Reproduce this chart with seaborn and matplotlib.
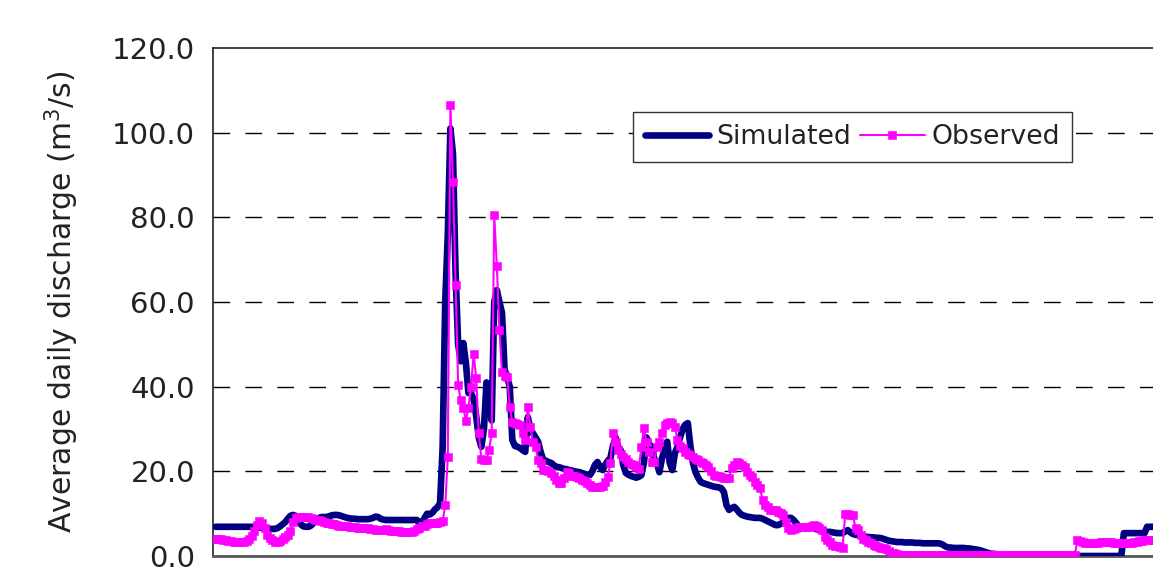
import matplotlib
matplotlib.use("Agg")
import matplotlib.pyplot as plt
import seaborn as sns
import numpy as np
import pandas as pd

# Day of record (0 = first day of the simulation year)
days = list(range(366))

# Simulated average daily discharge (m3/s)
simulated = [
    6.9, 6.9, 6.9, 6.9, 6.9, 6.9, 6.9, 6.9, 6.9, 6.9,
    6.9, 6.9, 6.9, 6.9, 6.9, 6.8, 6.8, 6.7, 6.7, 6.6,
    6.5, 6.4, 6.4, 6.4, 6.6, 7.0, 7.5, 8.0, 8.8, 9.5,
    9.7, 9.5, 8.5, 7.5, 7.0, 6.9, 6.9, 7.2, 7.8, 8.5,
    9.0, 9.2, 9.2, 9.2, 9.4, 9.6, 9.7, 9.7, 9.6, 9.4,
    9.2, 9.0, 8.9, 8.8, 8.8, 8.7, 8.7, 8.7, 8.7, 8.7,
    8.8, 9.0, 9.3, 9.2, 8.8, 8.6, 8.5, 8.5, 8.5, 8.5,
    8.5, 8.5, 8.5, 8.5, 8.5, 8.5, 8.5, 8.5, 8.5, 8.0,
    7.8, 9.0, 10.0, 9.8, 10.2, 11.0, 11.5, 12.5, 25.7, 60.0,
    76.0, 101.0, 95.0, 67.0, 50.0, 46.0, 50.3, 45.6, 38.5, 38.5,
    37.0, 33.0, 28.0, 25.8, 30.0, 41.0, 38.0, 32.0, 60.0, 62.8,
    60.0, 57.4, 44.0, 42.3, 40.0, 27.4, 26.0, 25.8, 25.5, 25.0,
    24.6, 32.8, 30.0, 29.0, 28.0, 27.0, 24.5, 22.7, 22.5, 22.2,
    22.0, 21.5, 21.0, 21.0, 20.8, 20.6, 20.5, 20.3, 20.2, 20.0,
    19.9, 19.8, 19.6, 19.4, 19.2, 19.1, 20.0, 21.5, 22.2, 21.0,
    20.3, 21.5, 22.5, 23.1, 26.0, 28.0, 25.8, 25.0, 21.5, 19.6,
    19.2, 18.9, 18.7, 18.5, 18.7, 19.1, 22.0, 28.0, 26.5, 25.8,
    23.0, 22.0, 19.8, 23.1, 25.0, 27.0, 22.0, 20.3, 24.3, 25.8,
    28.0, 30.0, 31.0, 31.4, 26.0, 22.0, 19.8, 18.5, 17.5, 17.2,
    17.0, 16.8, 16.6, 16.4, 16.3, 16.2, 16.0, 15.1, 12.0, 10.9,
    11.3, 11.6, 11.0, 10.2, 9.7, 9.5, 9.3, 9.2, 9.1, 9.0,
    9.0, 9.0, 8.8, 8.5, 8.2, 7.9, 7.6, 7.3, 7.3, 7.6,
    7.9, 8.5, 9.0, 9.0, 8.5, 7.8, 7.0, 6.9, 6.8, 6.8,
    6.9, 6.9, 6.6, 6.3, 6.1, 5.9, 5.8, 5.7, 5.7, 5.6,
    5.5, 5.4, 5.4, 5.4, 5.8, 6.1, 5.6, 5.2, 5.0, 5.0,
    4.8, 4.7, 4.5, 4.5, 4.4, 4.4, 4.3, 4.3, 4.2, 4.0,
    3.8, 3.6, 3.5, 3.4, 3.3, 3.3, 3.3, 3.2, 3.2, 3.2,
    3.2, 3.1, 3.1, 3.1, 3.0, 3.0, 3.0, 3.0, 3.0, 3.0,
    3.0, 2.9, 2.6, 2.2, 2.0, 2.0, 1.9, 1.9, 1.9, 1.9,
    1.9, 1.8, 1.8, 1.7, 1.6, 1.5, 1.4, 1.2, 1.0, 0.8,
    0.6, 0.5, 0.5, 0.4, 0.4, 0.4, 0.3, 0.3, 0.3, 0.3,
    0.3, 0.3, 0.3, 0.3, 0.3, 0.2, 0.2, 0.2, 0.2, 0.2,
    0.2, 0.2, 0.2, 0.2, 0.2, 0.2, 0.2, 0.2, 0.2, 0.2,
    0.1, 0.1, 0.1, 0.0, 0.0, 0.0, 0.0, 0.0, 0.0, 0.0,
    0.0, 0.0, 0.0, 0.0, 0.0, 0.0, 0.0, 0.0, 0.0, 0.0,
    0.0, 0.0, 5.4, 5.4, 5.4, 5.4, 5.4, 5.4, 5.4, 5.4,
    5.4, 6.9, 6.9, 6.9, 6.9, 6.9,
]

# Observed average daily discharge (m3/s)
observed = [
    4.0, 4.0, 3.9, 3.8, 3.7, 3.6, 3.5, 3.4, 3.3, 3.2,
    3.2, 3.3, 3.5, 4.0, 4.8, 6.0, 7.3, 8.3, 7.8, 6.5,
    5.0, 4.2, 3.8, 3.4, 3.3, 3.5, 4.0, 4.5, 5.0, 6.0,
    8.0, 9.0, 9.2, 9.2, 9.2, 9.2, 9.1, 9.0, 8.8, 8.6,
    8.4, 8.2, 8.0, 7.9, 7.8, 7.6, 7.5, 7.4, 7.2, 7.2,
    7.1, 7.0, 6.9, 6.8, 6.8, 6.7, 6.6, 6.6, 6.6, 6.5,
    6.4, 6.3, 6.2, 6.1, 6.1, 6.2, 6.3, 6.2, 6.0, 5.9,
    5.8, 5.8, 5.7, 5.7, 5.6, 5.6, 5.7, 6.0, 6.3, 6.6,
    7.0, 7.2, 7.5, 7.7, 7.8, 7.8, 7.9, 8.0, 8.2, 12.0,
    23.4, 106.5, 88.4, 64.0, 40.4, 36.8, 35.0, 32.0, 35.0, 40.0,
    47.7, 42.0, 29.0, 23.0, 22.7, 22.7, 25.0, 29.0, 80.5, 68.5,
    53.4, 43.5, 42.5, 42.3, 35.2, 31.7, 31.5, 31.2, 31.0, 29.0,
    27.4, 35.2, 30.5, 27.0, 25.8, 22.7, 22.0, 20.3, 20.3, 20.0,
    19.6, 19.0, 18.0, 17.2, 17.2, 18.5, 19.8, 19.5, 19.0, 18.8,
    18.6, 18.4, 18.0, 17.6, 17.2, 16.8, 16.3, 16.3, 16.3, 16.3,
    16.5, 17.5, 18.7, 22.0, 29.0, 27.0, 25.0, 24.0, 23.4, 22.8,
    22.2, 21.8, 21.4, 21.0, 20.5, 25.8, 30.2, 27.0, 24.6, 22.2,
    22.2, 25.8, 27.0, 29.0, 31.0, 31.5, 31.7, 31.4, 30.5, 27.4,
    26.0, 25.5, 24.5, 24.0, 23.9, 23.5, 23.0, 22.7, 22.3, 22.0,
    21.5, 21.0, 20.0, 19.1, 19.0, 18.8, 18.6, 18.4, 18.4, 18.4,
    20.8, 21.5, 22.3, 22.0, 21.5, 21.0, 19.8, 19.2, 18.7, 17.5,
    16.8, 16.0, 13.2, 12.0, 11.6, 10.9, 10.9, 10.9, 10.5, 10.2,
    9.7, 8.0, 6.6, 6.1, 6.3, 6.6, 6.9, 6.9, 6.9, 6.9,
    6.9, 7.1, 7.3, 7.0, 6.6, 6.1, 4.5, 3.8, 3.2, 2.6,
    2.4, 2.3, 2.2, 2.0, 10.0, 10.0, 9.8, 9.7, 6.6, 6.1,
    5.0, 4.0, 3.8, 3.3, 3.0, 2.6, 2.4, 2.2, 2.0, 1.9,
    1.6, 1.2, 0.8, 0.6, 0.4, 0.3, 0.3, 0.3, 0.3, 0.3,
    0.3, 0.3, 0.3, 0.3, 0.3, 0.3, 0.3, 0.3, 0.3, 0.3,
    0.3, 0.3, 0.3, 0.3, 0.3, 0.3, 0.3, 0.3, 0.3, 0.3,
    0.3, 0.3, 0.3, 0.3, 0.3, 0.3, 0.3, 0.3, 0.3, 0.3,
    0.3, 0.3, 0.3, 0.3, 0.3, 0.3, 0.3, 0.3, 0.3, 0.3,
    0.3, 0.3, 0.3, 0.3, 0.3, 0.3, 0.3, 0.3, 0.3, 0.3,
    0.3, 0.3, 0.3, 0.3, 0.3, 0.3, 0.3, 0.3, 0.3, 0.3,
    0.3, 0.3, 0.3, 0.3, 3.8, 3.5, 3.2, 3.0, 3.0, 3.0,
    3.0, 3.1, 3.1, 3.2, 3.3, 3.3, 3.3, 3.2, 3.1, 3.0,
    3.0, 3.0, 3.0, 3.1, 3.0, 3.0, 3.2, 3.4, 3.5, 3.6,
    3.7, 3.8, 3.8, 3.8, 3.8, 3.8,
]

y_ticks = [0, 20, 40, 60, 80, 100, 120]
series_names = ["Simulated", "Observed"]

df = pd.DataFrame({"day": days, "Simulated": simulated, "Observed": observed})

sns.set_style("white")
plt.rcParams["font.family"] = ["DejaVu Sans"]
text_color = "#222222"

fig = plt.figure(figsize=(11.53, 5.68), dpi=100)
ax = fig.add_axes([213 / 1153, 12 / 568, 947 / 1153, 508 / 568])

sns.lineplot(data=df, x="day", y="Simulated", ax=ax, color="#000080",
             linewidth=4.8, label=series_names[0], zorder=3,
             solid_capstyle="round", solid_joinstyle="round")
sns.lineplot(data=df, x="day", y="Observed", ax=ax, color="#FF00FF",
             linewidth=1.5, marker="s", markersize=5.4, markeredgewidth=0.4,
             markeredgecolor="#FF00FF", label=series_names[1], zorder=4)

ax.set_xlim(-1, 366)
ax.set_ylim(0, 120)
ax.set_yticks(y_ticks)
ax.set_yticklabels([f"{v:.1f}" for v in y_ticks])
ax.set_xticks([])
ax.set_xlabel("")
ax.set_ylabel("Average daily discharge (m$^{3}$/s)", fontsize=21.5,
              color=text_color, labelpad=22)

ax.tick_params(axis="y", direction="out", length=7, width=1,
               color="#222222", labelsize=21, labelcolor=text_color, pad=6)

# Dashed horizontal guides
for v in y_ticks[1:-1]:
    ax.axhline(v, color="black", linewidth=1.0, dashes=(12, 11), zorder=1)

for side in ["left", "top", "right"]:
    ax.spines[side].set_color("#222222")
    ax.spines[side].set_linewidth(1.2)
ax.spines["bottom"].set_color("#555555")
ax.spines["bottom"].set_linewidth(2.0)

leg = ax.legend(loc="upper left", bbox_to_anchor=((633 - 213) / 947, (556 - 112) / 508),
                borderaxespad=0, ncol=2, fontsize=19.3, frameon=True, fancybox=False,
                framealpha=1, edgecolor="#333333", handlelength=2.4,
                handletextpad=0.25, columnspacing=0.35, borderpad=0.45, numpoints=1)
leg.get_frame().set_linewidth(1.0)
for t in leg.get_texts():
    t.set_color(text_color)

fig.savefig("out.png", dpi=100)
